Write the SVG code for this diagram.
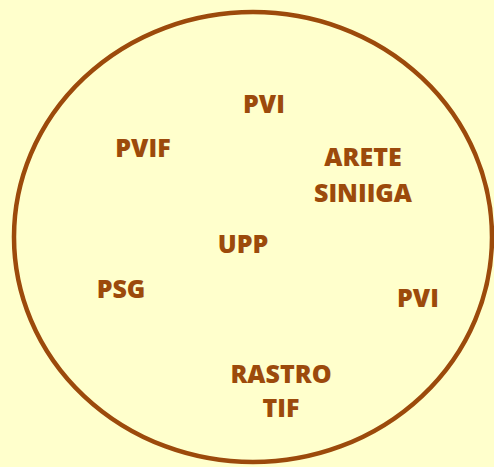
<svg xmlns="http://www.w3.org/2000/svg" width="494" height="467" viewBox="0 0 494 467">
<style>
.t{font-family:"Open Sans","Liberation Sans",sans-serif;font-weight:800;font-size:25px;fill:#9C4A0B;text-anchor:middle}
</style>
<rect width="494" height="467" fill="#FFFFCC"/>
<g id="circle"><ellipse cx="253" cy="237" rx="239" ry="225" fill="none" stroke="#9C4A0B" stroke-width="4.5"/></g>
<g id="pvi-top"><text class="t" x="264" y="113">PVI</text></g>
<g id="pvif"><text class="t" x="143" y="157">PVIF</text></g>
<g id="arete"><text class="t" x="363" y="166">ARETE</text><text class="t" x="363" y="202">SINIIGA</text></g>
<g id="upp"><text class="t" x="243" y="253">UPP</text></g>
<g id="psg"><text class="t" x="121" y="298">PSG</text></g>
<g id="pvi-right"><text class="t" x="418" y="307">PVI</text></g>
<g id="rastro"><text class="t" x="281" y="383">RASTRO</text><text class="t" x="281" y="417">TIF</text></g>
<g id="connectors"></g>
</svg>
